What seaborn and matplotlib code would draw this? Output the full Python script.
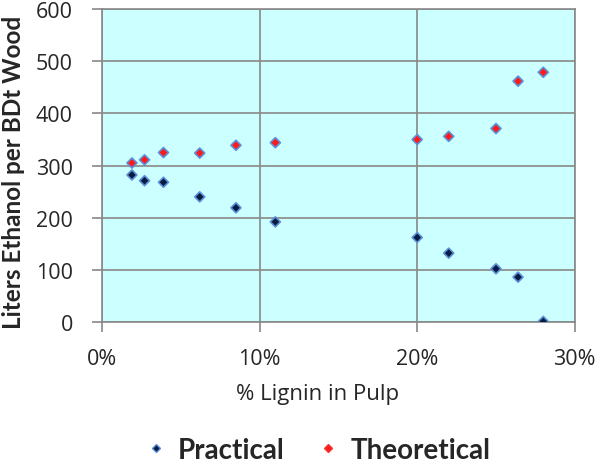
import numpy as np
import pandas as pd
import matplotlib
matplotlib.use('Agg')
from matplotlib import pyplot as plt
from matplotlib.ticker import PercentFormatter
from matplotlib.lines import Line2D
import seaborn as sns

##### Data
lignin = [0.019, 0.027, 0.039, 0.062, 0.085, 0.110, 0.200, 0.220, 0.250, 0.264, 0.280]
practical = [282, 271, 268, 240, 219, 192, 162, 132, 102, 86, 1]
theoretical = [305, 311, 325, 324, 339, 344, 350, 356, 371, 462, 479]

df = pd.DataFrame({
    'lignin': lignin * 2,
    'ethanol': practical + theoretical,
    'series': ['Practical'] * len(lignin) + ['Theoretical'] * len(lignin),
})

sns.set_style('white')
plt.rcParams['font.family'] = ['Lato', 'DejaVu Sans']

fig = plt.figure(figsize=(6, 4.64), dpi=100)
ax = fig.add_axes([0.17, 0.304, 0.788, 0.674])
ax.set_facecolor('#CCFFFF')

sns.scatterplot(data=df, x='lignin', y='ethanol', hue='series', style='series',
                markers={'Practical': 'D', 'Theoretical': 'D'},
                palette={'Practical': '#0A1A40', 'Theoretical': '#FF1A1A'},
                s=26, ax=ax, zorder=3, legend=False)
# blue glow on practical points, plain red on theoretical
for coll, ec in zip(ax.collections, ['#5A90D8', '#F03A3A']):
    coll.set_edgecolor(ec)
    coll.set_linewidth(1.2)

ax.set_xlim(0, 0.30)
ax.set_ylim(0, 600)
ax.set_xticks([0, 0.1, 0.2, 0.3])
ax.set_yticks(range(0, 601, 100))
ax.xaxis.set_major_formatter(PercentFormatter(1.0, decimals=0))
ax.grid(True, color='#888888', linewidth=1.2)
ax.set_axisbelow(True)
for s in ax.spines.values():
    s.set_color('#888888')
    s.set_linewidth(1.2)
ax.tick_params(axis='both', length=7, color='#888888', width=1.2, direction='out',
               labelsize=15.5)
ax.tick_params(axis='x', pad=12)
ax.tick_params(axis='y', pad=14)
for lab in ax.get_xticklabels() + ax.get_yticklabels():
    lab.set_family(['Open Sans', 'DejaVu Sans'])
ax.xaxis.set_ticks_position('bottom')
ax.yaxis.set_ticks_position('left')

ax.set_xlabel('% Lignin in Pulp', fontsize=16, family=['Open Sans', 'DejaVu Sans'])
ax.set_ylabel('Liters Ethanol per BDt Wood', fontsize=17.5, fontweight='bold')
ax.xaxis.set_label_coords(0.455, -0.195)
ax.yaxis.set_label_coords(-0.163, 0.48)

handles = [Line2D([], [], marker='D', linestyle='', color='#0A1A40', markeredgecolor='#5A90D8', markersize=4.5),
           Line2D([], [], marker='D', linestyle='', color='#FF1A1A', markeredgecolor='#F03A3A', markersize=4.5)]
fig.legend(handles, ['Practical', 'Theoretical'], loc='center', bbox_to_anchor=(0.527, 0.028),
           ncol=2, frameon=False, prop={'size': 20, 'weight': 'bold'}, handletextpad=0.3,
           columnspacing=1.05, handlelength=1.0)

fig.savefig('out.png', dpi=100)
